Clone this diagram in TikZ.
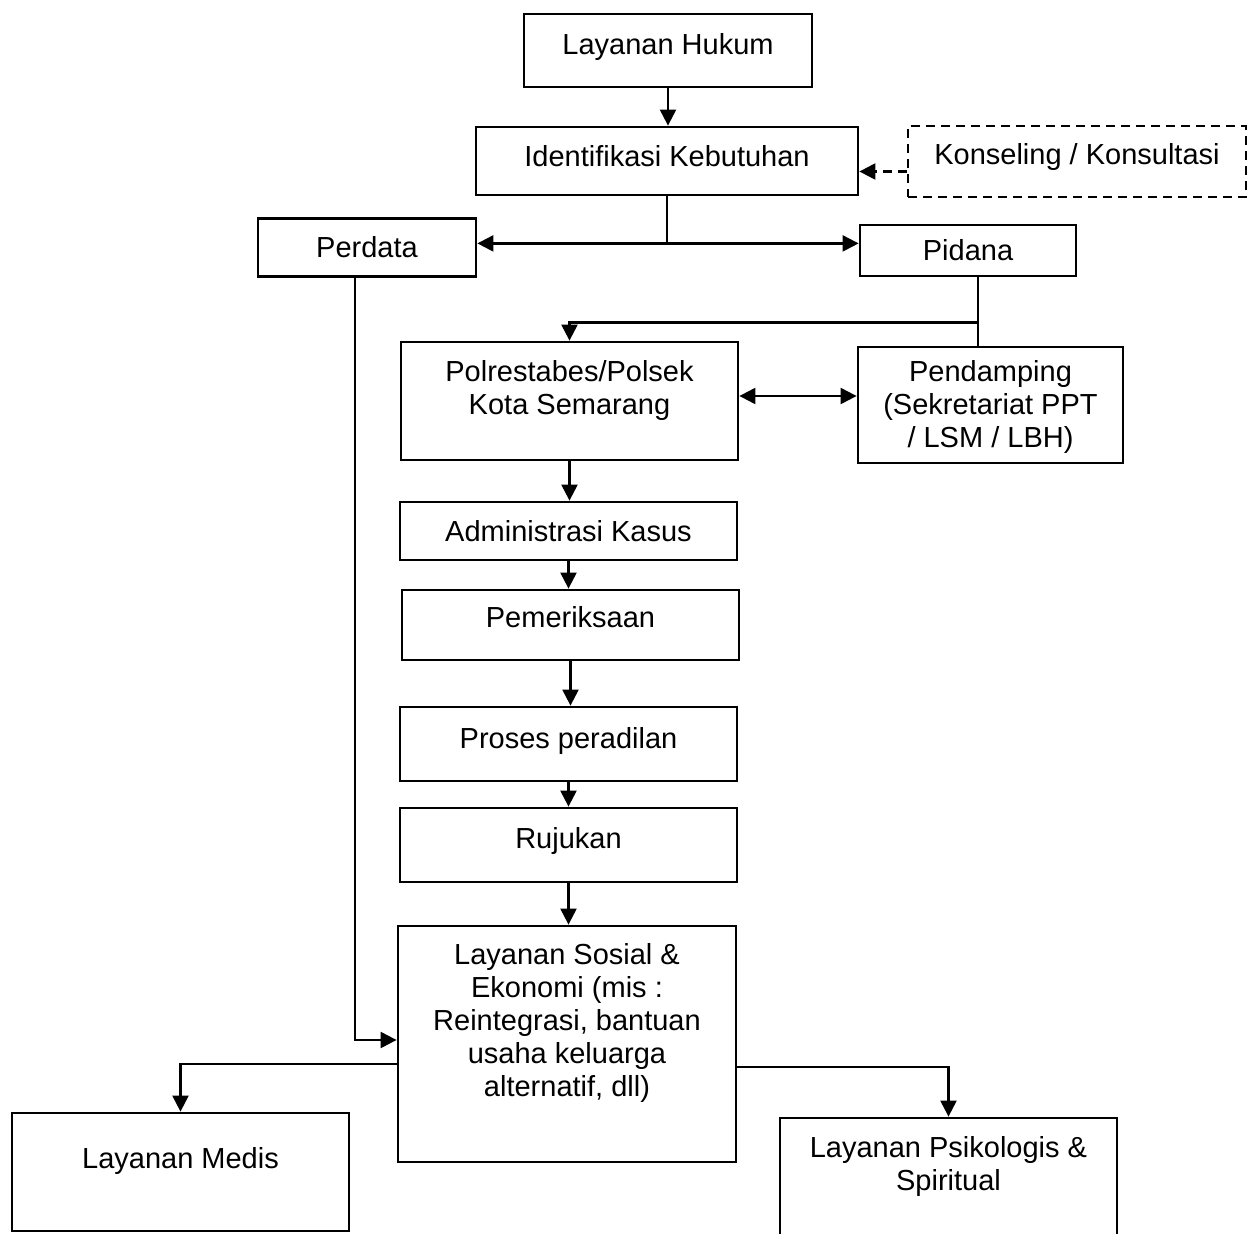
\documentclass[tikz,border=0pt]{standalone}
\usepackage{fontspec}
\setmainfont{Liberation Sans}
\usetikzlibrary{arrows.meta}

\tikzset{every picture/.style={line width=2.2pt}}
\tikzset{box/.style={draw, line width=2.8pt, inner sep=0pt, align=center},
  dashbox/.style={box, line width=2.4pt, dash pattern=on 9pt off 6pt},
  lift/.style={text depth=#1pt}}

\begin{document}
\begin{tikzpicture}[x=1pt,y=1pt,yscale=-1,xscale=1,font=\fontsize{29}{33}\selectfont,>={Triangle[length=16pt,width=16pt]}]
%set diagram size 1254 x 1234
\useasboundingbox (0,0) rectangle (1254,1234);
\clip (0,0) rectangle (1254,1234);

%Shape: Rectangle
\node [box, minimum width=288, minimum height=73, lift=13] (hukum) at (668,50.5) {Layanan Hukum};
%Shape: Rectangle
\node [box, minimum width=382, minimum height=68, lift=10] (ident) at (667,161) {Identifikasi Kebutuhan};
%Shape: Rectangle dashed
\node [dashbox, minimum width=338, minimum height=71, lift=15] (konsul) at (1077,161.5) {Konseling / Konsultasi};
%Shape: Rectangle
\node [box, minimum width=218, minimum height=58] (perdata) at (367,247.5) {Perdata};
%Shape: Rectangle
\node [box, minimum width=216, minimum height=51] (pidana) at (968,250.5) {Pidana};
%Shape: Rectangle
\node [box, minimum width=337, minimum height=118, lift=27] (polres) at (569.5,401) {Polrestabes/Polsek\\Kota Semarang};
%Shape: Rectangle
\node [box, minimum width=265, minimum height=116, lift=2] (pendamping) at (990.5,405) {Pendamping\\(Sekretariat PPT\\/ LSM / LBH)};
%Shape: Rectangle
\node [box, minimum width=337, minimum height=58] (admin) at (568.5,531) {Administrasi Kasus};
%Shape: Rectangle
\node [box, minimum width=337, minimum height=70, lift=16] (periksa) at (570.5,625) {Pemeriksaan};
%Shape: Rectangle
\node [box, minimum width=337, minimum height=74, lift=12] (proses) at (568.5,744) {Proses peradilan};
%Shape: Rectangle
\node [box, minimum width=337, minimum height=74, lift=14] (rujukan) at (568.5,845) {Rujukan};
%Shape: Rectangle
\node [box, minimum width=338, minimum height=236, lift=49] (sosial) at (567,1044) {Layanan Sosial \&\\Ekonomi (mis :\\Reintegrasi, bantuan\\usaha keluarga\\alternatif, dll)};
%Shape: Rectangle
\node [box, minimum width=337, minimum height=118, lift=29] (medis) at (180.5,1172) {Layanan Medis};
%Shape: Rectangle
\node [box, minimum width=337, minimum height=130, lift=40] (psiko) at (948.5,1183) {Layanan Psikologis \&\\Spiritual};

%Straight Lines
\draw [->] (hukum.south) -- (hukum.south |- ident.north);
%Straight Lines dashed
\coordinate (kc) at ([yshift=10pt]konsul.west);
\draw [->, dash pattern=on 9pt off 6pt] (kc) -- (kc -| ident.east);
%Straight Lines
\draw (ident.south) -- ++(0,47) coordinate (split);
\draw [->] (split) -- (split -| perdata.east);
\draw [->] (split) -- (split -| pidana.west);
%Straight Lines
\coordinate (pd) at ([xshift=10pt]pidana.south);
\draw (pd) -- (pd |- pendamping.north);
\path (pd) ++(0,45) coordinate (pk);
\draw [->] (pk) -| (polres.north);
%Straight Lines
\coordinate (pp) at ([yshift=-5pt]polres.east);
\draw [<->] (pp) -- (pp -| pendamping.west);
%Straight Lines
\draw [->] (polres.south) -- (polres.south |- admin.north);
\draw [->] (admin.south) -- (admin.south |- periksa.north);
\draw [->] (periksa.south) -- (periksa.south |- proses.north);
\draw [->] (proses.south) -- (proses.south |- rujukan.north);
\draw [->] (rujukan.south) -- (rujukan.south |- sosial.north);
%Straight Lines
\coordinate (pr) at ([xshift=-12pt]perdata.south);
\draw [->] (pr) |- ([yshift=-4pt]sosial.west);
%Straight Lines
\draw [->] ([yshift=20pt]sosial.west) -| (medis.north);
\draw [->] ([yshift=23pt]sosial.east) -| (psiko.north);

\end{tikzpicture}
\end{document}
